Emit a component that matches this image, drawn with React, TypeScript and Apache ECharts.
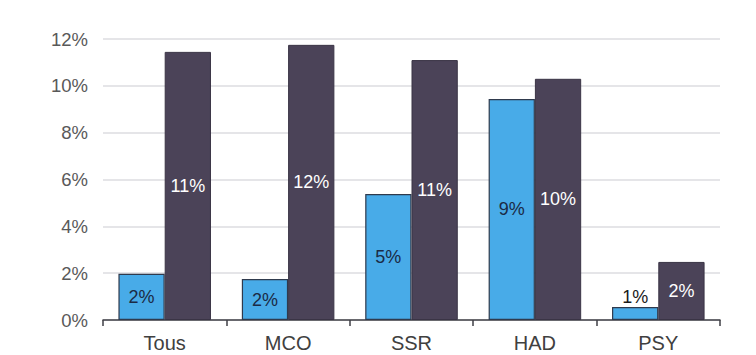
import React, { useEffect, useRef } from "react";
import * as echarts from "echarts";

const categories = ["Tous", "MCO", "SSR", "HAD", "PSY"];
const seriesA = [1.97, 1.75, 5.38, 9.44, 0.55];
const seriesB = [11.45, 11.75, 11.1, 10.3, 2.48];
const yTicks = [0, 2, 4, 6, 8, 10, 12];

const FONT = "Liberation Sans, Arial, sans-serif";

export default function App() {
  const ref = useRef<HTMLDivElement>(null);
  useEffect(() => {
    if (!ref.current) return;
    const chart = echarts.init(ref.current, null, { renderer: "svg" });
    const fmt = (p: any) => Math.round(p.value) + "%";
    chart.setOption({
      animation: false,
      backgroundColor: "#ffffff",
      grid: { left: 103, right: 36, top: 39, bottom: 35, containLabel: false },
      xAxis: {
        type: "category",
        data: categories,
        axisLine: { show: true, lineStyle: { color: "#3f3f46", width: 1.5 } },
        axisTick: { show: true, alignWithLabel: false, length: 6, lineStyle: { color: "#3f3f46", width: 1.5 }, inside: false },
        axisLabel: { color: "#404040", fontSize: 20, fontFamily: FONT, margin: 13 },
      },
      yAxis: {
        type: "value",
        min: yTicks[0],
        max: yTicks[yTicks.length - 1],
        interval: 2,
        axisLine: { show: false },
        axisTick: { show: false },
        splitLine: { lineStyle: { color: "#dcdce0", width: 1.5 } },
        axisLabel: { color: "#595959", fontSize: 18.5, fontFamily: FONT, margin: 15, formatter: (v: number) => v + "%" },
      },
      series: [
        {
          type: "bar",
          data: seriesA.map((v, i) => ({
            value: v,
            label: i === 4 ? { position: "top", distance: 1, color: "#1a1a1a" } : undefined,
          })),
          barGap: "0%",
          barCategoryGap: "25%",
          itemStyle: { color: "#48abe8", borderColor: "#2f3a4d", borderWidth: 1.2 },
          label: { show: true, position: "inside", color: "#1b2a45", fontSize: 18, fontFamily: FONT, formatter: fmt },
        },
        {
          type: "bar",
          data: seriesB,
          barGap: "0%",
          barCategoryGap: "25%",
          itemStyle: { color: "#4b4358", borderColor: "#3a3445", borderWidth: 1 },
          label: { show: true, position: "inside", color: "#ffffff", fontSize: 18, fontFamily: FONT, formatter: fmt },
        },
      ],
    });
    return () => chart.dispose();
  }, []);
  return <div ref={ref} style={{ position: "fixed", left: 0, top: 0, width: 756, height: 355 }} />;
}
